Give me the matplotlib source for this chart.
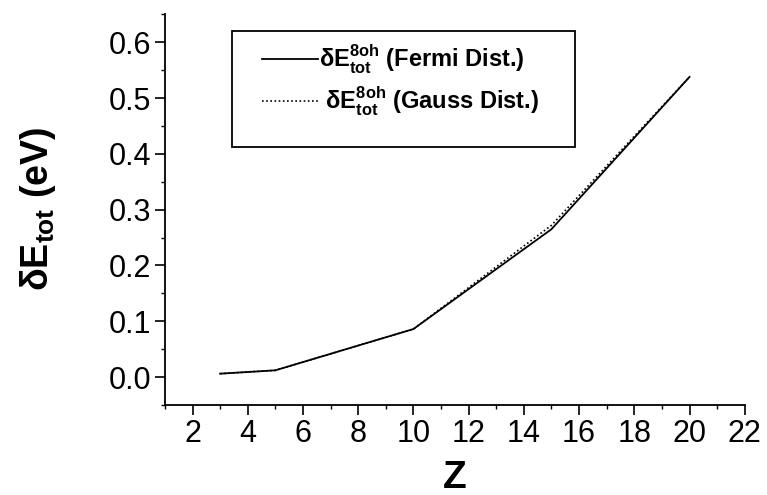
import matplotlib
matplotlib.use("Agg")
import matplotlib.pyplot as plt
from matplotlib.patches import Rectangle
from matplotlib.ticker import MultipleLocator

plt.rcParams['font.family'] = ['Liberation Sans', 'DejaVu Sans']
plt.rcParams['mathtext.fontset'] = 'custom'
plt.rcParams['mathtext.rm'] = 'Liberation Sans'
plt.rcParams['mathtext.bf'] = 'Liberation Sans:bold'

# donnees
Z = [3, 5, 10, 15, 20]
E_fermi = [0.006, 0.012, 0.086, 0.265, 0.538]
E_gauss = [0.006, 0.012, 0.086, 0.272, 0.538]

fig = plt.figure(figsize=(7.67, 4.95), dpi=100)
ax = fig.add_axes([0.215, 0.182, 0.756, 0.79])

ax.plot(Z, E_fermi, "k-", lw=1.3, label=r"$\mathbf{\delta E}_{\mathbf{tot}}^{\mathbf{8oh}}$ (Fermi Dist.)")
ax.plot(Z, E_gauss, color="k", ls=(0, (1, 1.5)), lw=1.2,
        label=r" $\mathbf{\delta E}_{\mathbf{tot}}^{\mathbf{8oh}}$ (Gauss Dist.)")

ax.set_xlim(1, 22)
ax.set_ylim(-0.05, 0.651)
ax.xaxis.set_major_locator(MultipleLocator(2))
ax.xaxis.set_minor_locator(MultipleLocator(1))
ax.yaxis.set_minor_locator(MultipleLocator(0.05))
ax.set_yticks([0.0, 0.1, 0.2, 0.3, 0.4, 0.5, 0.6])
ax.set_yticklabels(["0.0", "0.1", "0.2", "0.3", "0.4", "0.5", "0.6"])

for s in ["top", "right"]:
    ax.spines[s].set_visible(False)
for s in ["left", "bottom"]:
    ax.spines[s].set_linewidth(1.3)

ax.tick_params(which="major", direction="out", length=7, width=1.2, labelsize=22, pad=3)
ax.tick_params(which="minor", direction="out", length=3, width=1.0)

ax.set_xlabel("Z", fontsize=28, fontweight="bold", labelpad=8)
ax.set_ylabel(r"$\mathbf{\delta E}_{\mathbf{tot}}$ (eV)", fontsize=27, fontweight="bold", labelpad=36)

# cadre de la legende
ax.add_patch(Rectangle((0.1155, 0.66), 0.591, 0.297, transform=ax.transAxes,
                       fill=False, ec="k", lw=1.3, zorder=5))
leg = ax.legend(loc="upper left", bbox_to_anchor=(0.13, 0.98), frameon=False,
                prop={"weight": "bold", "size": 17}, handlelength=2.4,
                handletextpad=0.05, labelspacing=0.35)

plt.savefig("out.png", dpi=100)
